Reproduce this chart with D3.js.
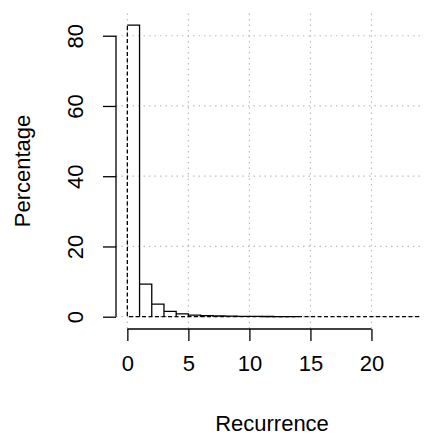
<!DOCTYPE html>
<html>
<head>
<meta charset="utf-8">
<script src="https://cdn.jsdelivr.net/npm/d3@7"></script>
<style>
  body { margin: 0; background: #fff; }
  text { font-family: "Liberation Sans", Arial, sans-serif; fill: #000; }
</style>
</head>
<body>
<div class="board"></div>
<script>
// histogram of recurrence, bins of width 1
var binStart = [0, 1, 2, 3, 4, 5, 6, 7, 8, 9, 10, 11, 12, 13];
var percent = [83.0, 9.3, 3.6, 1.5, 0.8, 0.45, 0.3, 0.2, 0.15, 0.1, 0.08, 0.06, 0.05, 0.04];

var xTicks = [0, 5, 10, 15, 20];
var yTicks = [0, 20, 40, 60, 80];

// dashed reference line
var dashX = [0, 0, 24];
var dashY = [82.8, 0, 0];

var width = 424;
var height = 435;

var svg = d3.select('.board').append('svg')
  .attr('width', width)
  .attr('height', height);

// plot region (R style usr extents)
var x = d3.scaleLinear().domain([-0.93, 24.1]).range([116, 421.5]);
var y = d3.scaleLinear().domain([-3.5, 86.3]).range([329, 13.6]);

// grid
svg.append('g').selectAll('line')
  .data(xTicks)
  .enter().append('line')
  .attr('x1', function(d) { return x(d); })
  .attr('x2', function(d) { return x(d); })
  .attr('y1', y.range()[1])
  .attr('y2', y.range()[0])
  .attr('stroke', '#bdbdbd')
  .attr('stroke-width', 1.2)
  .attr('stroke-dasharray', '1.5,4');

svg.append('g').selectAll('line')
  .data(yTicks)
  .enter().append('line')
  .attr('x1', x.range()[0])
  .attr('x2', x.range()[1])
  .attr('y1', function(d) { return y(d); })
  .attr('y2', function(d) { return y(d); })
  .attr('stroke', '#bdbdbd')
  .attr('stroke-width', 1.2)
  .attr('stroke-dasharray', '1.5,4');

// bars: top and right edge only (left / bottom come from the dashed line)
svg.append('g').selectAll('path')
  .data(binStart)
  .enter().append('path')
  .attr('d', function(d, i) {
    return 'M' + x(d) + ',' + y(percent[i]) + 'H' + x(d + 1) + 'V' + y(0);
  })
  .attr('fill', 'none')
  .attr('stroke', '#000')
  .attr('stroke-width', 1.3);

// dashed line
var line = d3.line()
  .x(function(d) { return x(d[0]); })
  .y(function(d) { return y(d[1]); });

svg.append('path')
  .datum(d3.zip(dashX, dashY))
  .attr('d', line)
  .attr('fill', 'none')
  .attr('stroke', '#000')
  .attr('stroke-width', 1.3)
  .attr('stroke-dasharray', '4,2.5');

// x axis
var xAxis = svg.append('g')
  .attr('transform', 'translate(0,' + y.range()[0] + ')')
  .call(d3.axisBottom(x).tickValues(xTicks).tickSize(12).tickPadding(14).tickSizeOuter(0));
xAxis.select('.domain').attr('d', 'M' + x(0) + ',0H' + x(20)).attr('stroke-width', 1.3);
xAxis.selectAll('.tick line').attr('stroke-width', 1.3);
xAxis.selectAll('text')
  .style('font-family', '"Liberation Sans", Arial, sans-serif')
  .style('font-size', '22px');

// y axis
var yAxis = svg.append('g')
  .attr('transform', 'translate(' + x.range()[0] + ',0)')
  .call(d3.axisLeft(y).tickValues(yTicks).tickSize(13).tickSizeOuter(0));
yAxis.select('.domain').attr('d', 'M0,' + y(0) + 'V' + y(80)).attr('stroke-width', 1.3);
yAxis.selectAll('.tick line').attr('stroke-width', 1.3);
yAxis.selectAll('text').remove();
yAxis.selectAll('.tick').append('text')
  .attr('transform', 'translate(-33,0) rotate(-90)')
  .attr('text-anchor', 'middle')
  .style('font-size', '22px')
  .text(function(d) { return d; });

// axis titles
svg.append('text')
  .attr('x', 272)
  .attr('y', 431)
  .attr('text-anchor', 'middle')
  .style('font-size', '22px')
  .text('Recurrence');

svg.append('text')
  .attr('transform', 'translate(30,171) rotate(-90)')
  .attr('text-anchor', 'middle')
  .style('font-size', '22px')
  .text('Percentage');
</script>
</body>
</html>
